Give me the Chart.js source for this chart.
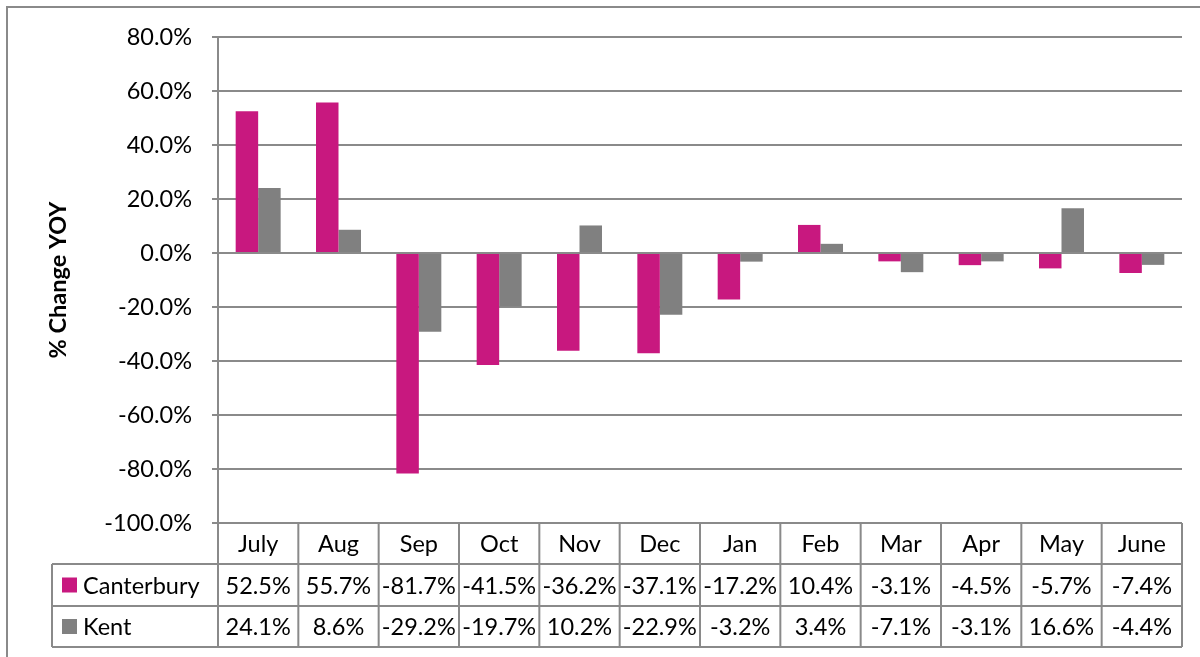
<!DOCTYPE html>
<html>
<head>
<meta charset="utf-8">
<script src="https://cdn.jsdelivr.net/npm/chart.js@4"></script>
<style>
  html, body { margin: 0; padding: 0; background: #fff; }
  #wrap { width: 1200px; height: 657px; }
</style>
</head>
<body>
<div id="wrap"><canvas id="myChart" width="1200" height="657"></canvas></div>
<script>
const months = ['July', 'Aug', 'Sep', 'Oct', 'Nov', 'Dec', 'Jan', 'Feb', 'Mar', 'Apr', 'May', 'June'];
const canterbury = [52.5, 55.7, -81.7, -41.5, -36.2, -37.1, -17.2, 10.4, -3.1, -4.5, -5.7, -7.4];
const kent = [24.1, 8.6, -29.2, -19.7, 10.2, -22.9, -3.2, 3.4, -7.1, -3.1, 16.6, -4.4];
const yTicks = [-100, -80, -60, -40, -20, 0, 20, 40, 60, 80];

const pink = '#c8187f';
const grey = '#808080';
const lineGrey = '#8a8a8a';
const FONT = 'Lato';
const FSIZE = 23.5;

// outer frame + data table under the plot
const tablePlugin = {
  id: 'dataTable',
  beforeDraw(chart) {
    const ctx = chart.ctx;
    ctx.save();
    ctx.fillStyle = '#fff';
    ctx.fillRect(0, 0, chart.width, chart.height);
    ctx.strokeStyle = lineGrey;
    ctx.lineWidth = 2;
    ctx.strokeRect(7, 7, chart.width + 20, chart.height + 20);
    ctx.restore();
  },
  afterDraw(chart) {
    const ctx = chart.ctx;
    const area = chart.chartArea;
    const x = chart.scales.x;
    const n = months.length;
    const colW = (area.right - area.left) / n;
    const rowTop = area.bottom;
    const rows = [rowTop, rowTop + 41, rowTop + 83, rowTop + 124];
    const tableLeft = 52;

    ctx.save();
    ctx.strokeStyle = lineGrey;
    ctx.lineWidth = 2;
    ctx.beginPath();
    for (let i = 1; i < rows.length; i++) {
      ctx.moveTo(tableLeft, rows[i]);
      ctx.lineTo(area.right, rows[i]);
    }
    for (let i = 0; i <= n; i++) {
      const px = area.left + i * colW;
      ctx.moveTo(px, rows[0]);
      ctx.lineTo(px, rows[3]);
    }
    ctx.moveTo(tableLeft, rows[1]);
    ctx.lineTo(tableLeft, rows[3]);
    ctx.stroke();

    ctx.fillStyle = '#000';
    ctx.font = FSIZE + 'px ' + FONT;
    ctx.textAlign = 'center';
    ctx.textBaseline = 'middle';
    const fmt = v => v.toFixed(1) + '%';
    months.forEach((m, i) => {
      const cx = x.getPixelForValue(i);
      ctx.fillText(m, cx, (rows[0] + rows[1]) / 2 + 1);
      ctx.fillText(fmt(canterbury[i]), cx, (rows[1] + rows[2]) / 2 + 1);
      ctx.fillText(fmt(kent[i]), cx, (rows[2] + rows[3]) / 2 + 1);
    });

    // series keys
    ctx.textAlign = 'left';
    const keys = [['Canterbury', pink], ['Kent', grey]];
    keys.forEach((k, j) => {
      const cy = (rows[j + 1] + rows[j + 2]) / 2;
      ctx.fillStyle = k[1];
      ctx.fillRect(62, cy - 7.5, 15, 15);
      ctx.fillStyle = '#000';
      ctx.fillText(k[0], 83, cy + 1);
    });
    ctx.restore();
  }
};

const ctx = document.getElementById('myChart').getContext('2d');
new Chart(ctx, {
  type: 'bar',
  data: {
    labels: months,
    datasets: [
      { label: 'Canterbury', data: canterbury, backgroundColor: pink },
      { label: 'Kent', data: kent, backgroundColor: grey }
    ]
  },
  options: {
    responsive: false,
    animation: false,
    devicePixelRatio: 1,
    layout: { padding: { left: 0, top: 37, right: 18, bottom: 134 } },
    datasets: {
      bar: { barPercentage: 1, categoryPercentage: 0.56 }
    },
    plugins: {
      legend: { display: false },
      tooltip: { enabled: false }
    },
    scales: {
      x: { display: false },
      y: {
        min: -100,
        max: 80,
        afterBuildTicks: axis => { axis.ticks = yTicks.map(v => ({ value: v })); },
        afterFit: axis => { axis.width = 218; },
        border: { display: true, color: lineGrey, width: 2 },
        grid: { color: lineGrey, lineWidth: 2, tickLength: 6 },
        ticks: {
          color: '#000',
          padding: 20,
          font: { family: FONT, size: FSIZE },
          callback: v => v.toFixed(1) + '%'
        },
        title: {
          display: true,
          text: '% Change YOY',
          color: '#000',
          font: { family: FONT, size: FSIZE, weight: 'bold' },
          padding: { top: 44, bottom: 0 }
        }
      }
    }
  },
  plugins: [tablePlugin]
});
</script>
</body>
</html>
